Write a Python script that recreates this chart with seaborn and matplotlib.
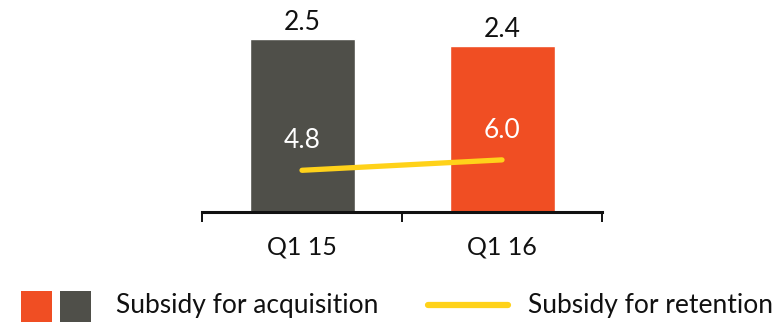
import numpy as np
import pandas as pd
import matplotlib
matplotlib.use("Agg")
import matplotlib.pyplot as plt
from matplotlib.patches import Rectangle
from matplotlib.lines import Line2D
import seaborn as sns

quarters = ["Q1 15", "Q1 16"]
acquisition = [2.5, 2.4]
retention = [4.8, 6.0]
acq_labels = ["2.5", "2.4"]
ret_labels = ["4.8", "6.0"]
legend_labels = ["Subsidy for acquisition", "Subsidy for retention"]

GRAY = "#4F4F49"
ORANGE = "#F04E23"
YELLOW = "#FFD21A"
INK = "#111111"
FONT = "Lato"

sns.set_theme(style="white")
plt.rcParams["font.family"] = [FONT, "DejaVu Sans"]

W, H = 782, 323
fig = plt.figure(figsize=(W / 100, H / 100), dpi=100)

# axes spans x=202..602 px, baseline at y=212 px
ax = fig.add_axes([202 / W, (H - 212) / H, 400 / W, 212 / H])

df = pd.DataFrame({"quarter": quarters, "acq": acquisition, "ret": retention})
sns.barplot(data=df, x="quarter", y="acq", hue="quarter",
            palette=[GRAY, ORANGE], width=0.525, saturation=1,
            legend=False, ax=ax)
ax.set_xlim(-0.5, 1.5)
ax.set_ylim(0, 3.07)

for i, (v, t) in enumerate(zip(acquisition, acq_labels)):
    ax.annotate(t, (i, v), xytext=(0, 6.5), textcoords="offset points",
                ha="center", va="baseline", fontsize=19, color=INK)

ax2 = ax.twinx()
x_pos = np.arange(len(quarters))
sns.lineplot(x=x_pos, y=retention, color=YELLOW, linewidth=3.8,
             ax=ax2, legend=False)
ax2.set_ylim(0, 24.4)
for i, (v, t) in enumerate(zip(retention, ret_labels)):
    ax2.annotate(t, (i, v), xytext=(0, 16), textcoords="offset points",
                 ha="center", va="baseline", fontsize=19, color="white")
ax2.set_yticks([])
ax2.set_ylabel("")
for s in ax2.spines.values():
    s.set_visible(False)

# axis styling
for name in ["left", "right", "top"]:
    ax.spines[name].set_visible(False)
ax.spines["bottom"].set_linewidth(2.2)
ax.spines["bottom"].set_color(INK)
ax.set_yticks([])
ax.set_ylabel("")
ax.set_xlabel("")
ax.set_xticks(x_pos, quarters)
ax.set_xticks([-0.5, 0.5, 1.5], minor=True)
ax.tick_params(axis="x", which="major", length=0, pad=17, labelsize=18,
               labelcolor=INK)
ax.tick_params(axis="x", which="minor", length=7.5, width=1.4,
               color=INK, direction="out", bottom=True)
ax.set_xlim(-0.5, 1.5)

# legend drawn in figure pixel coordinates
def px(x, y):
    return x / W, (H - y) / H

sq = 31
for x0, c in [(21, ORANGE), (60, GRAY)]:
    fx, fy = px(x0, 322)
    fig.add_artist(Rectangle((fx, fy), sq / W, sq / H, transform=fig.transFigure,
                             facecolor=c, edgecolor="none"))
fig.text(*px(116, 313), legend_labels[0], ha="left", va="baseline",
         fontsize=19, color=INK)
lx0, ly = px(428, 305)
lx1, _ = px(508, 305)
fig.add_artist(Line2D([lx0, lx1], [ly, ly], transform=fig.transFigure,
                      color=YELLOW, linewidth=4.5))
fig.text(*px(528, 313), legend_labels[1], ha="left", va="baseline",
         fontsize=19, color=INK)

fig.savefig("out.png", dpi=100)
